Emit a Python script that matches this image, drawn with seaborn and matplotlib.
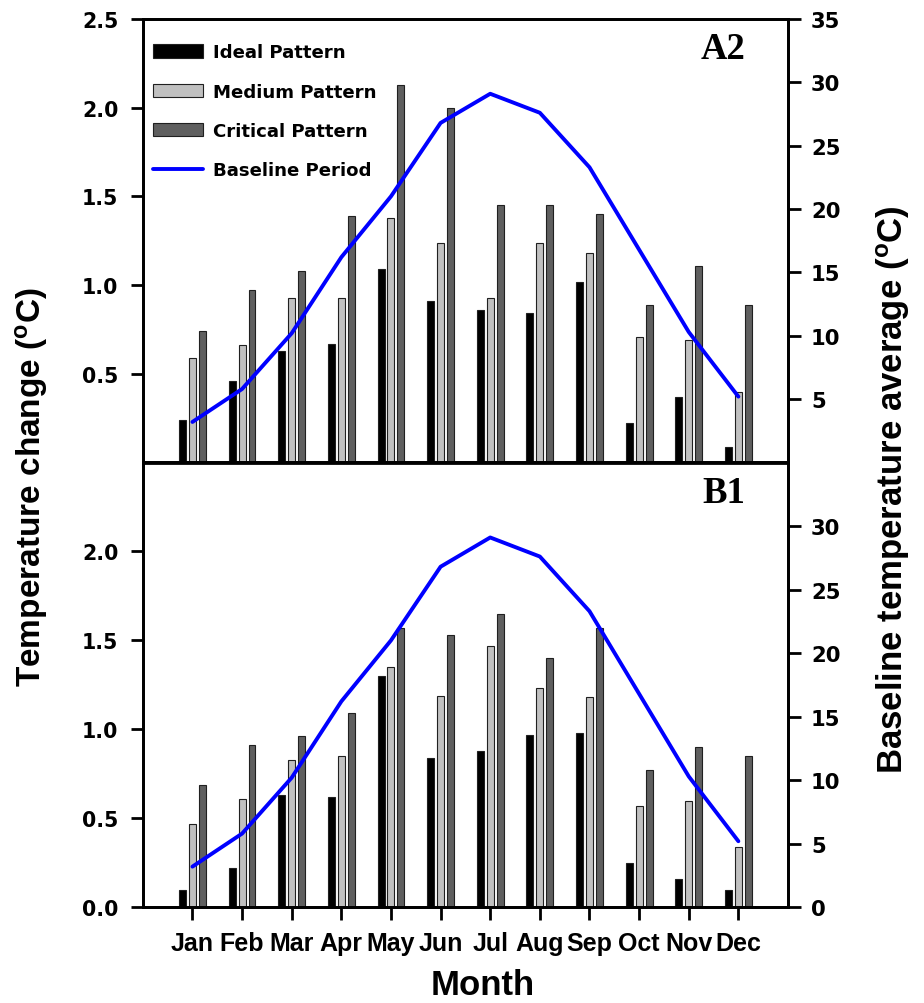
import numpy as np
import pandas as pd
import matplotlib
matplotlib.use("Agg")
import matplotlib.pyplot as plt
import seaborn as sns
from matplotlib.patches import Patch
from matplotlib.lines import Line2D

months = ['Jan', 'Feb', 'Mar', 'Apr', 'May', 'Jun', 'Jul', 'Aug', 'Sep', 'Oct', 'Nov', 'Dec']
patterns = ['Ideal Pattern', 'Medium Pattern', 'Critical Pattern']

a2_ideal = [0.24, 0.46, 0.63, 0.67, 1.09, 0.91, 0.86, 0.84, 1.02, 0.22, 0.37, 0.09]
a2_medium = [0.59, 0.66, 0.93, 0.93, 1.38, 1.24, 0.93, 1.24, 1.18, 0.71, 0.69, 0.40]
a2_critical = [0.74, 0.97, 1.08, 1.39, 2.13, 2.00, 1.45, 1.45, 1.40, 0.89, 1.11, 0.89]

b1_ideal = [0.10, 0.22, 0.63, 0.62, 1.30, 0.84, 0.88, 0.97, 0.98, 0.25, 0.16, 0.10]
b1_medium = [0.47, 0.61, 0.83, 0.85, 1.35, 1.19, 1.47, 1.23, 1.18, 0.57, 0.60, 0.34]
b1_critical = [0.69, 0.91, 0.96, 1.09, 1.57, 1.53, 1.65, 1.40, 1.57, 0.77, 0.90, 0.85]

baseline = [3.2, 5.8, 10.2, 16.2, 21.0, 26.8, 29.1, 27.6, 23.3, 16.8, 10.3, 5.2]

panel_names = ['A2', 'B1']

sns.set_style('ticks')
plt.rcParams['font.family'] = ['Liberation Sans', 'DejaVu Sans']
plt.rcParams['font.weight'] = 'bold'
plt.rcParams['text.color'] = 'black'
plt.rcParams['axes.labelcolor'] = 'black'
plt.rcParams['xtick.color'] = 'black'
plt.rcParams['ytick.color'] = 'black'
plt.rcParams['mathtext.fontset'] = 'custom'
plt.rcParams['mathtext.rm'] = 'Liberation Sans:bold'
plt.rcParams['mathtext.bf'] = 'Liberation Sans:bold'
plt.rcParams['mathtext.it'] = 'Liberation Sans:bold'

wide = ['DejaVu Sans']

colors = ['#000000', '#c0c0c0', '#5f5f5f']
line_color = '#0000ff'

fig = plt.figure(figsize=(9.24, 10.04), dpi=100)
left, right = 143.3 / 924, 788 / 924
top_y0, top_y1 = 1 - 463.5 / 1004, 1 - 20 / 1004
bot_y0, bot_y1 = 1 - 908.3 / 1004, 1 - 463.5 / 1004

ax_top = fig.add_axes([left, top_y0, right - left, top_y1 - top_y0])
ax_bot = fig.add_axes([left, bot_y0, right - left, bot_y1 - bot_y0])

datasets = [(a2_ideal, a2_medium, a2_critical), (b1_ideal, b1_medium, b1_critical)]

for i, (ax, vals) in enumerate(zip([ax_top, ax_bot], datasets)):
    df = pd.DataFrame({
        'month': months * 3,
        'pattern': np.repeat(patterns, 12),
        'value': list(vals[0]) + list(vals[1]) + list(vals[2]),
    })
    sns.barplot(data=df, x='month', y='value', hue='pattern', order=months,
                hue_order=patterns, palette=colors, width=0.6, gap=0.3,
                edgecolor='#202020', linewidth=0.8, ax=ax, legend=False, zorder=2)
    ax2 = ax.twinx()
    sns.lineplot(x=np.arange(12), y=baseline, ax=ax2, color=line_color,
                 linewidth=2.8, zorder=3)
    ax.set_xlim(-0.99, 12.0)
    ax.set_ylim(0, 2.5)
    ax2.set_ylim(0, 35)
    ax.set_xlabel('')
    ax.set_ylabel('')
    ax2.set_ylabel('')
    for a in (ax, ax2):
        for s in a.spines.values():
            s.set_linewidth(2.0)
            s.set_color('black')
            s.set_visible(True)
    ax.tick_params(axis='y', width=2.0, length=8.5, direction='out', pad=9.5)
    ax2.tick_params(axis='y', width=2.0, length=9, direction='out', pad=7.5)
    if i == 0:
        ax.set_yticks([0.5, 1.0, 1.5, 2.0, 2.5])
        ax2.set_yticks([5, 10, 15, 20, 25, 30, 35])
        ax.set_xticks([])
    else:
        ax.set_yticks([0.0, 0.5, 1.0, 1.5, 2.0])
        ax2.set_yticks([0, 5, 10, 15, 20, 25, 30])
        ax.set_xticks(range(12))
        ax.set_xticklabels(months, fontsize=18, fontweight='bold')
        ax.tick_params(axis='x', width=2.0, length=9, direction='out', pad=8)
    ax.set_yticklabels([f'{t:.1f}' for t in ax.get_yticks()], fontweight='bold',
                       fontsize=14.8, family=wide)
    ax2.set_yticklabels([f'{int(t)}' for t in ax2.get_yticks()], fontweight='bold',
                        fontsize=15.2, family=wide)
    ax.text(0.9, 0.933, panel_names[i], transform=ax.transAxes, ha='center',
            va='center', fontsize=26.5, fontweight='bold',
            family=['Liberation Serif', 'DejaVu Serif'])
    if i == 0:
        handles = [Patch(facecolor=colors[0], edgecolor='#202020', linewidth=0.8),
                   Patch(facecolor=colors[1], edgecolor='#202020', linewidth=0.8),
                   Patch(facecolor=colors[2], edgecolor='#202020', linewidth=0.8),
                   Line2D([], [], color=line_color, linewidth=2.8)]
        labels = patterns + ['Baseline Period']
        leg = ax2.legend(handles, labels, loc='upper left',
                         bbox_to_anchor=(0.015, 0.945), frameon=False,
                         borderpad=0, borderaxespad=0, handlelength=2.75,
                         handleheight=0.75, handletextpad=0.55, labelspacing=1.17,
                         prop={'size': 13.1, 'weight': 'bold', 'family': wide})

fig.text(32 / 924, 1 - 487 / 1004, r'Temperature change ($^{\mathbf{o}}$C)',
         rotation=90, ha='center', va='center', fontsize=24, fontweight='bold')
fig.text(893 / 924, 1 - 490 / 1004, r'Baseline temperature average ($^{\mathbf{o}}$C)',
         rotation=90, ha='center', va='center', fontsize=25, fontweight='bold')
fig.text(483 / 924, 1 - 986 / 1004, 'Month', ha='center', va='center',
         fontsize=25, fontweight='bold')

fig.savefig('out.png', dpi=100)
